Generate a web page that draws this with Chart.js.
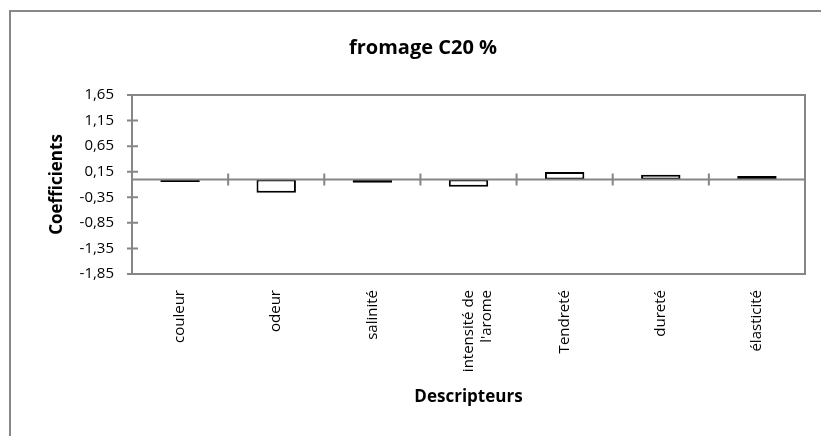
<!DOCTYPE html>
<html>
<head>
<meta charset="utf-8">
<script src="https://cdn.jsdelivr.net/npm/chart.js@4"></script>
<style>
  html, body { margin: 0; padding: 0; background: #fff; overflow: hidden; }
  #frame {
    position: absolute; left: 9px; top: 10px;
    border-left: 2px solid #888; border-top: 2px solid #888;
    width: 830px; height: 440px;
  }
  canvas { display: block; }
</style>
</head>
<body>
<div id="frame"><canvas id="chart" width="820" height="424"></canvas></div>
<script>
// descriptors and their coefficients
const descripteurs = ['couleur', 'odeur', 'salinité', ['intensité de', "l'arome"], 'Tendreté', 'dureté', 'élasticité'];
const coefficients = [-0.05, -0.26, -0.065, -0.145, 0.145, 0.09, 0.065];
const yTicks = [-1.85, -1.35, -0.85, -0.35, 0.15, 0.65, 1.15, 1.65];

const GRAY = '#868686';
const FONT = 'Open Sans';

// plot frame, zero line and the small crossing tick marks
const axesPlugin = {
  id: 'axesPlugin',
  afterDatasetsDraw(chart) {
    const { ctx, chartArea: a, scales } = chart;
    const x = scales.x;
    const y = scales.y;
    const y0 = y.getPixelForValue(0);
    ctx.save();
    ctx.strokeStyle = GRAY;
    ctx.lineWidth = 2;
    ctx.strokeRect(a.left, a.top, a.right - a.left, a.bottom - a.top);
    ctx.beginPath();
    ctx.moveTo(a.left, y0);
    ctx.lineTo(a.right, y0);
    for (let i = 0; i < descripteurs.length - 1; i += 1) {
      const px = (x.getPixelForValue(i) + x.getPixelForValue(i + 1)) / 2;
      ctx.moveTo(px, y0 - 6);
      ctx.lineTo(px, y0 + 6);
    }
    yTicks.forEach((v) => {
      const py = y.getPixelForValue(v);
      ctx.moveTo(a.left - 5, py);
      ctx.lineTo(a.left + 6, py);
    });
    ctx.stroke();
    ctx.restore();
  },
};

new Chart(document.getElementById('chart'), {
  type: 'bar',
  data: {
    labels: descripteurs,
    datasets: [{
      data: coefficients,
      backgroundColor: '#ffffff',
      borderColor: '#000000',
      borderWidth: 2,
      borderSkipped: false,
      barPercentage: 0.41,
      categoryPercentage: 1,
    }],
  },
  options: {
    responsive: false,
    animation: false,
    layout: { padding: { left: 30, right: 26, top: 0, bottom: 0 } },
    plugins: {
      legend: { display: false },
      tooltip: { enabled: false },
      title: {
        display: true,
        text: 'fromage C20 %',
        color: '#000',
        font: { family: FONT, size: 20, weight: 'bold' },
        padding: { top: 24, bottom: 35 },
      },
    },
    scales: {
      x: {
        grid: { display: false, drawTicks: false },
        border: { display: false },
        ticks: {
          color: '#000',
          font: { family: FONT, size: 15 },
          minRotation: 90,
          maxRotation: 90,
          autoSkip: false,
          padding: 16,
        },
        title: {
          display: true,
          text: 'Descripteurs',
          color: '#000',
          font: { family: FONT, size: 17, weight: 'bold' },
          padding: { top: 0, bottom: 29 },
        },
        afterFit: (s) => { s.height = 162; },
      },
      y: {
        min: -1.85,
        max: 1.65,
        grid: { display: false, drawTicks: false },
        border: { display: false },
        afterBuildTicks: (s) => { s.ticks = yTicks.map((v) => ({ value: v })); },
        ticks: {
          color: '#000',
          font: { family: FONT, size: 15 },
          padding: 18,
          callback: (v) => v.toFixed(2).replace('.', ','),
        },
        title: {
          display: true,
          text: 'Coefficients',
          color: '#000',
          font: { family: FONT, size: 17, weight: 'bold' },
          padding: { top: 6, bottom: 0 },
        },
        afterFit: (s) => { s.width = 91; },
      },
    },
  },
  plugins: [axesPlugin],
});
</script>
</body>
</html>
